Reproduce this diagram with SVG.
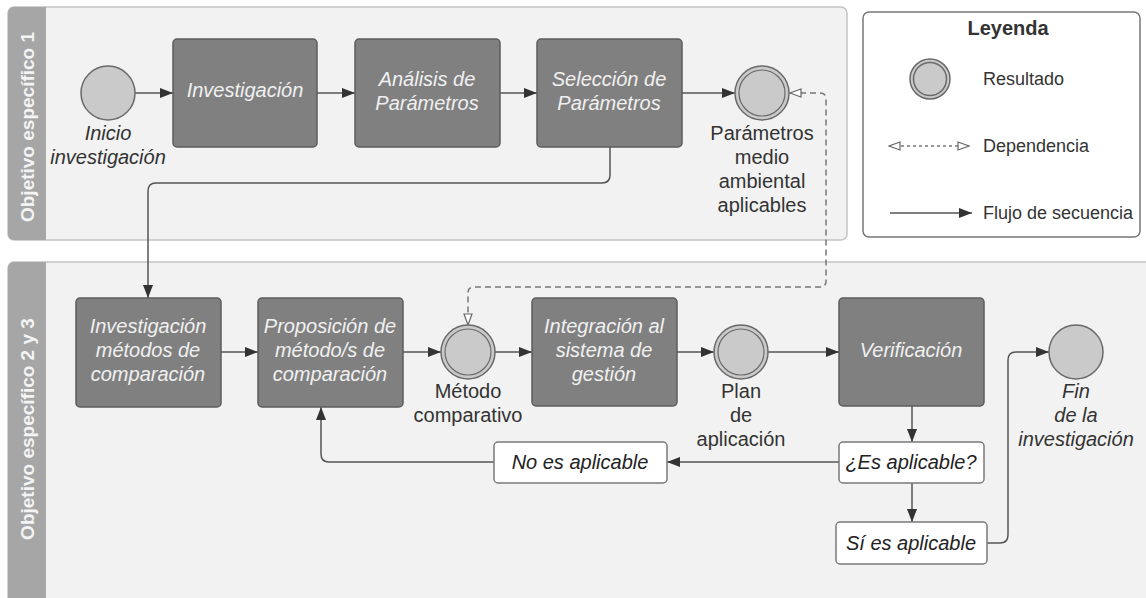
<svg xmlns="http://www.w3.org/2000/svg" width="1146" height="598" viewBox="0 0 1146 598">
<style>
.pool{fill:#f2f2f2;stroke:#c4c4c4;stroke-width:1.5}
.band{fill:#a6a6a6}
.lane{font-family:"Liberation Sans",Arial,sans-serif;font-weight:bold;font-size:19px;fill:#f4f4f4}
.task{fill:#808080;stroke:#5c5c5c;stroke-width:1.5}
.tt{font-family:"Liberation Sans",Arial,sans-serif;font-style:italic;font-size:20px;fill:#f0f0f0;text-anchor:middle}
.ev{fill:#cacaca;stroke:#6a6a6a;stroke-width:1.5}
.lbl{font-family:"Liberation Sans",Arial,sans-serif;font-size:20px;fill:#333;text-anchor:middle}
.lbli{font-family:"Liberation Sans",Arial,sans-serif;font-style:italic;font-size:20px;fill:#333;text-anchor:middle}
.gw{fill:#fff;stroke:#7a7a7a;stroke-width:1.5}
.gt{font-family:"Liberation Sans",Arial,sans-serif;font-style:italic;font-size:20px;fill:#222;text-anchor:middle}
.flow{fill:none;stroke:#555;stroke-width:1.5;marker-end:url(#arr)}
.dep{fill:none;stroke:#777;stroke-width:1.5;stroke-dasharray:6 4;marker-start:url(#oarrS);marker-end:url(#oarr)}
.leg{font-family:"Liberation Sans",Arial,sans-serif;font-size:18px;fill:#333}
</style>
<defs>
<marker id="arr" markerUnits="userSpaceOnUse" markerWidth="14" markerHeight="10" refX="13" refY="5" orient="auto">
<path d="M0,0 L13,5 L0,10 Z" fill="#333"/>
</marker>
<marker id="oarr" markerUnits="userSpaceOnUse" markerWidth="14" markerHeight="10" refX="12" refY="5" orient="auto">
<path d="M1,1 L12,5 L1,9 Z" fill="#fff" stroke="#666" stroke-width="1.2"/>
</marker>
<marker id="oarrS" markerUnits="userSpaceOnUse" markerWidth="14" markerHeight="10" refX="1" refY="5" orient="auto">
<path d="M12,1 L1,5 L12,9 Z" fill="#fff" stroke="#666" stroke-width="1.2"/>
</marker>
</defs>

<g id="pool1">
<rect class="pool" x="8" y="7" width="839" height="233" rx="6"/>
<path class="band" d="M14,7 H46 V240 H14 A6,6 0 0 1 8,234 V13 A6,6 0 0 1 14,7 Z"/>
<text class="lane" transform="translate(34,127) rotate(-90)" text-anchor="middle">Objetivo específico 1</text>
</g>
<g id="pool2">
<rect class="pool" x="8" y="262" width="1150" height="345" rx="6"/>
<path class="band" d="M14,262 H46 V607 H8 V268 A6,6 0 0 1 14,262 Z"/>
<text class="lane" transform="translate(34,429) rotate(-90)" text-anchor="middle">Objetivo específico 2 y 3</text>
</g>

<g id="legend">
<rect x="863" y="12" width="277" height="225" rx="6" fill="#fff" stroke="#777" stroke-width="1.5"/>
<text x="1008" y="35" text-anchor="middle" font-family="Liberation Sans, Arial, sans-serif" font-weight="bold" font-size="20" fill="#333">Leyenda</text>
<circle class="ev" cx="930" cy="79" r="20"/>
<circle cx="930" cy="79" r="16.5" fill="none" stroke="#6a6a6a" stroke-width="1.5"/>
<text class="leg" x="983" y="85">Resultado</text>
<line x1="889" y1="146" x2="969" y2="146" stroke="#777" stroke-width="1.5" stroke-dasharray="3 3" marker-start="url(#oarrS)" marker-end="url(#oarr)"/>
<text class="leg" x="983" y="152">Dependencia</text>
<line x1="890" y1="213" x2="972" y2="213" stroke="#555" stroke-width="1.5" marker-end="url(#arr)"/>
<text class="leg" x="983" y="219">Flujo de secuencia</text>
</g>

<g id="connectors">
<line class="flow" x1="135" y1="93" x2="173" y2="93"/>
<line class="flow" x1="317" y1="93" x2="355" y2="93"/>
<line class="flow" x1="500" y1="93" x2="537" y2="93"/>
<line class="flow" x1="682" y1="93" x2="735" y2="93"/>
<path class="flow" d="M610,147 V175 Q610,183 602,183 H156 Q148,183 148,191 V298"/>
<line class="flow" x1="221" y1="352" x2="258" y2="352"/>
<line class="flow" x1="403" y1="352" x2="441" y2="352"/>
<line class="flow" x1="495" y1="352" x2="532" y2="352"/>
<line class="flow" x1="677" y1="352" x2="714" y2="352"/>
<line class="flow" x1="768" y1="352" x2="839" y2="352"/>
<line class="flow" x1="912" y1="406" x2="912" y2="442"/>
<line class="flow" x1="912" y1="483" x2="912" y2="522"/>
<line class="flow" x1="839" y1="462" x2="667" y2="462"/>
<path class="flow" d="M494,462 H329 Q321,462 321,454 V407"/>
<path class="flow" d="M987,543 H1000 Q1008,543 1008,535 V360 Q1008,352 1016,352 H1049"/>
<path class="dep" d="M790,93 H820 Q826,93 826,99 V281 Q826,287 820,287 H474 Q468,287 468,293 V325"/>
</g>

<g id="n-inicio">
<circle class="ev" cx="108" cy="93" r="27"/>
<text class="lbli" x="108" y="140">Inicio</text>
<text class="lbli" x="108" y="164">investigación</text>
</g>
<g id="n-investigacion">
<rect class="task" x="173" y="39" width="144" height="108" rx="4"/>
<text class="tt" x="245" y="97">Investigación</text>
</g>
<g id="n-analisis">
<rect class="task" x="355" y="39" width="145" height="108" rx="4"/>
<text class="tt" x="427" y="86">Análisis de</text>
<text class="tt" x="427" y="110">Parámetros</text>
</g>
<g id="n-seleccion">
<rect class="task" x="537" y="39" width="145" height="108" rx="4"/>
<text class="tt" x="609" y="86">Selección de</text>
<text class="tt" x="609" y="110">Parámetros</text>
</g>
<g id="n-parametros">
<circle class="ev" cx="762" cy="93" r="27"/>
<circle cx="762" cy="93" r="23" fill="none" stroke="#6a6a6a" stroke-width="1.2"/>
<text class="lbl" x="762" y="140">Parámetros</text>
<text class="lbl" x="762" y="164">medio</text>
<text class="lbl" x="762" y="188">ambiental</text>
<text class="lbl" x="762" y="212">aplicables</text>
</g>

<g id="n-invmetodos">
<rect class="task" x="76" y="298" width="145" height="109" rx="4"/>
<text class="tt" x="148" y="333">Investigación</text>
<text class="tt" x="148" y="357">métodos de</text>
<text class="tt" x="148" y="381">comparación</text>
</g>
<g id="n-proposicion">
<rect class="task" x="258" y="298" width="145" height="109" rx="4"/>
<text class="tt" x="330" y="333">Proposición de</text>
<text class="tt" x="330" y="357">método/s de</text>
<text class="tt" x="330" y="381">comparación</text>
</g>
<g id="n-metodo">
<circle class="ev" cx="468" cy="352" r="27"/>
<circle cx="468" cy="352" r="23" fill="none" stroke="#6a6a6a" stroke-width="1.2"/>
<text class="lbl" x="468" y="398">Método</text>
<text class="lbl" x="468" y="422">comparativo</text>
</g>
<g id="n-integracion">
<rect class="task" x="532" y="298" width="145" height="108" rx="4"/>
<text class="tt" x="604" y="333">Integración al</text>
<text class="tt" x="604" y="357">sistema de</text>
<text class="tt" x="604" y="381">gestión</text>
</g>
<g id="n-plan">
<circle class="ev" cx="741" cy="352" r="27"/>
<circle cx="741" cy="352" r="23" fill="none" stroke="#6a6a6a" stroke-width="1.2"/>
<text class="lbl" x="741" y="398">Plan</text>
<text class="lbl" x="741" y="422">de</text>
<text class="lbl" x="741" y="446">aplicación</text>
</g>
<g id="n-verificacion">
<rect class="task" x="839" y="298" width="145" height="108" rx="4"/>
<text class="tt" x="911" y="357">Verificación</text>
</g>
<g id="n-fin">
<circle class="ev" cx="1076" cy="352" r="27"/>
<text class="lbli" x="1076" y="398">Fin</text>
<text class="lbli" x="1076" y="422">de la</text>
<text class="lbli" x="1076" y="446">investigación</text>
</g>
<g id="n-esaplicable">
<rect class="gw" x="839" y="442" width="145" height="41" rx="4"/>
<text class="gt" x="911" y="469">¿Es aplicable?</text>
</g>
<g id="n-noaplicable">
<rect class="gw" x="494" y="442" width="173" height="41" rx="4"/>
<text class="gt" x="580" y="469">No es aplicable</text>
</g>
<g id="n-siaplicable">
<rect class="gw" x="836" y="522" width="151" height="42" rx="4"/>
<text class="gt" x="911" y="550">Sí es aplicable</text>
</g>
</svg>
